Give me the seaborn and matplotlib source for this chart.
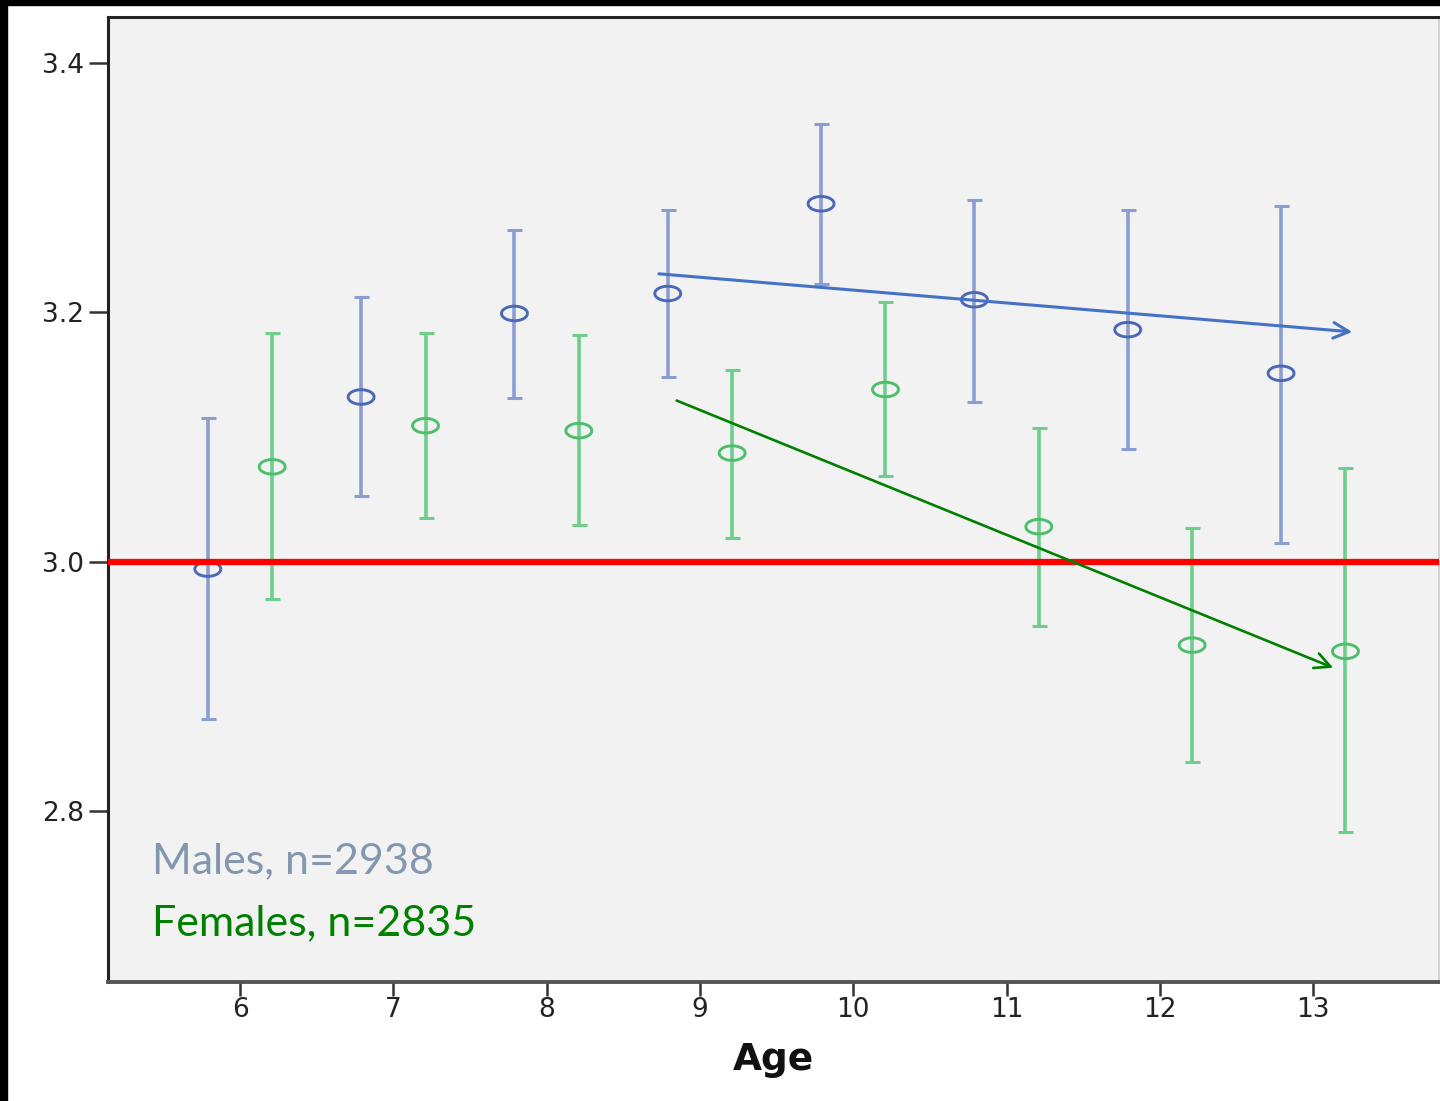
import numpy as np
import pandas as pd
import matplotlib.pyplot as plt
from matplotlib.patches import Rectangle
import seaborn as sns

# values
ages = [6, 7, 8, 9, 10, 11, 12, 13]
male_mean = [2.994, 3.132, 3.199, 3.215, 3.287, 3.210, 3.186, 3.151]
male_upper = [3.115, 3.212, 3.266, 3.282, 3.351, 3.290, 3.282, 3.285]
male_lower = [2.874, 3.053, 3.131, 3.148, 3.223, 3.128, 3.090, 3.015]
female_mean = [3.076, 3.109, 3.105, 3.087, 3.138, 3.028, 2.933, 2.928]
female_upper = [3.183, 3.183, 3.182, 3.154, 3.208, 3.107, 3.027, 3.075]
female_lower = [2.970, 3.035, 3.029, 3.019, 3.069, 2.948, 2.839, 2.783]
male_trend = [(8.714, 3.231), (13.273, 3.184)]
female_trend = [(8.831, 3.130), (13.147, 2.914)]
labels = ['Males, n=2938', 'Females, n=2835']

sns.set_style('white')
plt.rcParams['font.family'] = ['DejaVu Sans']

df = pd.concat([
    pd.DataFrame({'age': ages, 'sex': 'Male', 'mean': male_mean,
                  'lo': male_lower, 'hi': male_upper, 'off': -0.21}),
    pd.DataFrame({'age': ages, 'sex': 'Female', 'mean': female_mean,
                  'lo': female_lower, 'hi': female_upper, 'off': 0.21}),
])
df['x'] = df['age'] + df['off']

fig = plt.figure(figsize=(14.4, 11.01), dpi=100)
ax = fig.add_axes([0.075, 0.1083, 0.9243, 0.8765])
ax.set_facecolor('#f2f2f2')

bar_colors = {'Male': '#8a9ed4', 'Female': '#6dcf8a'}
mark_colors = {'Male': '#4a68b6', 'Female': '#4dbf6c'}

for sex, g in df.groupby('sex'):
    ax.errorbar(g['x'], g['mean'], yerr=[g['mean'] - g['lo'], g['hi'] - g['mean']],
                fmt='none', ecolor=bar_colors[sex], elinewidth=2.6,
                capsize=5.4, capthick=2.2, zorder=2)

t = np.linspace(0, 2 * np.pi, 60)
ellipse = np.column_stack([np.cos(t) * 1.0, np.sin(t) * 0.56])
sns.scatterplot(data=df, x='x', y='mean', hue='sex', palette=mark_colors,
                marker=ellipse, s=350, facecolor='none', linewidth=2.1,
                legend=False, ax=ax, zorder=3)
# open markers: edge gets the hue colour
for coll in ax.collections[-1:]:
    coll.set_edgecolors(coll.get_facecolors())
    coll.set_facecolors('none')

ax.axhline(3.0, color='#ff0000', linewidth=4.5, zorder=4)

ax.annotate('', xy=male_trend[1], xytext=male_trend[0],
            arrowprops=dict(arrowstyle='->', color='#4472c4', lw=2.2,
                            mutation_scale=28), zorder=5)
ax.annotate('', xy=female_trend[1], xytext=female_trend[0],
            arrowprops=dict(arrowstyle='->', color='#008000', lw=1.9,
                            mutation_scale=28), zorder=5)

ax.text(0.033, 0.1126, labels[0], transform=ax.transAxes, color='#8497b0',
        fontsize=31, family=['Lato', 'DejaVu Sans'], va='baseline')
ax.text(0.033, 0.0484, labels[1], transform=ax.transAxes, color='#008000',
        fontsize=31, family=['Lato', 'DejaVu Sans'], va='baseline')

ax.set_xlim(5.139, 13.82)
ax.set_ylim(2.663, 3.437)
ax.set_xticks(ages)
ax.set_yticks([2.8, 3.0, 3.2, 3.4])
ax.set_yticklabels(['2.8', '3.0', '3.2', '3.4'])
ax.tick_params(axis='y', direction='out', length=14, width=1.8, color='#333333',
               labelsize=19, labelcolor='#222222', pad=3, left=True)
ax.tick_params(axis='x', direction='out', length=10, width=1.8, color='#333333',
               labelsize=19, labelcolor='#222222', pad=1, bottom=True)
ax.set_xlabel('Age', fontsize=27, fontweight='bold', labelpad=14, color='#111111')
ax.set_ylabel('')

for side in ['left', 'top']:
    ax.spines[side].set_color('#222222')
    ax.spines[side].set_linewidth(2.2)
ax.spines['bottom'].set_color('#555555')
ax.spines['bottom'].set_linewidth(2.8)
ax.spines['right'].set_color('#cccccc')
ax.spines['right'].set_linewidth(1.2)

# black screen-capture border at left and top
fig.patches.append(Rectangle((0, 0), 0.005, 1, transform=fig.transFigure,
                             color='black', zorder=10))
fig.patches.append(Rectangle((0, 0.9955), 1, 0.0045, transform=fig.transFigure,
                             color='black', zorder=10))

fig.savefig('out.png', dpi=100, facecolor='white')
